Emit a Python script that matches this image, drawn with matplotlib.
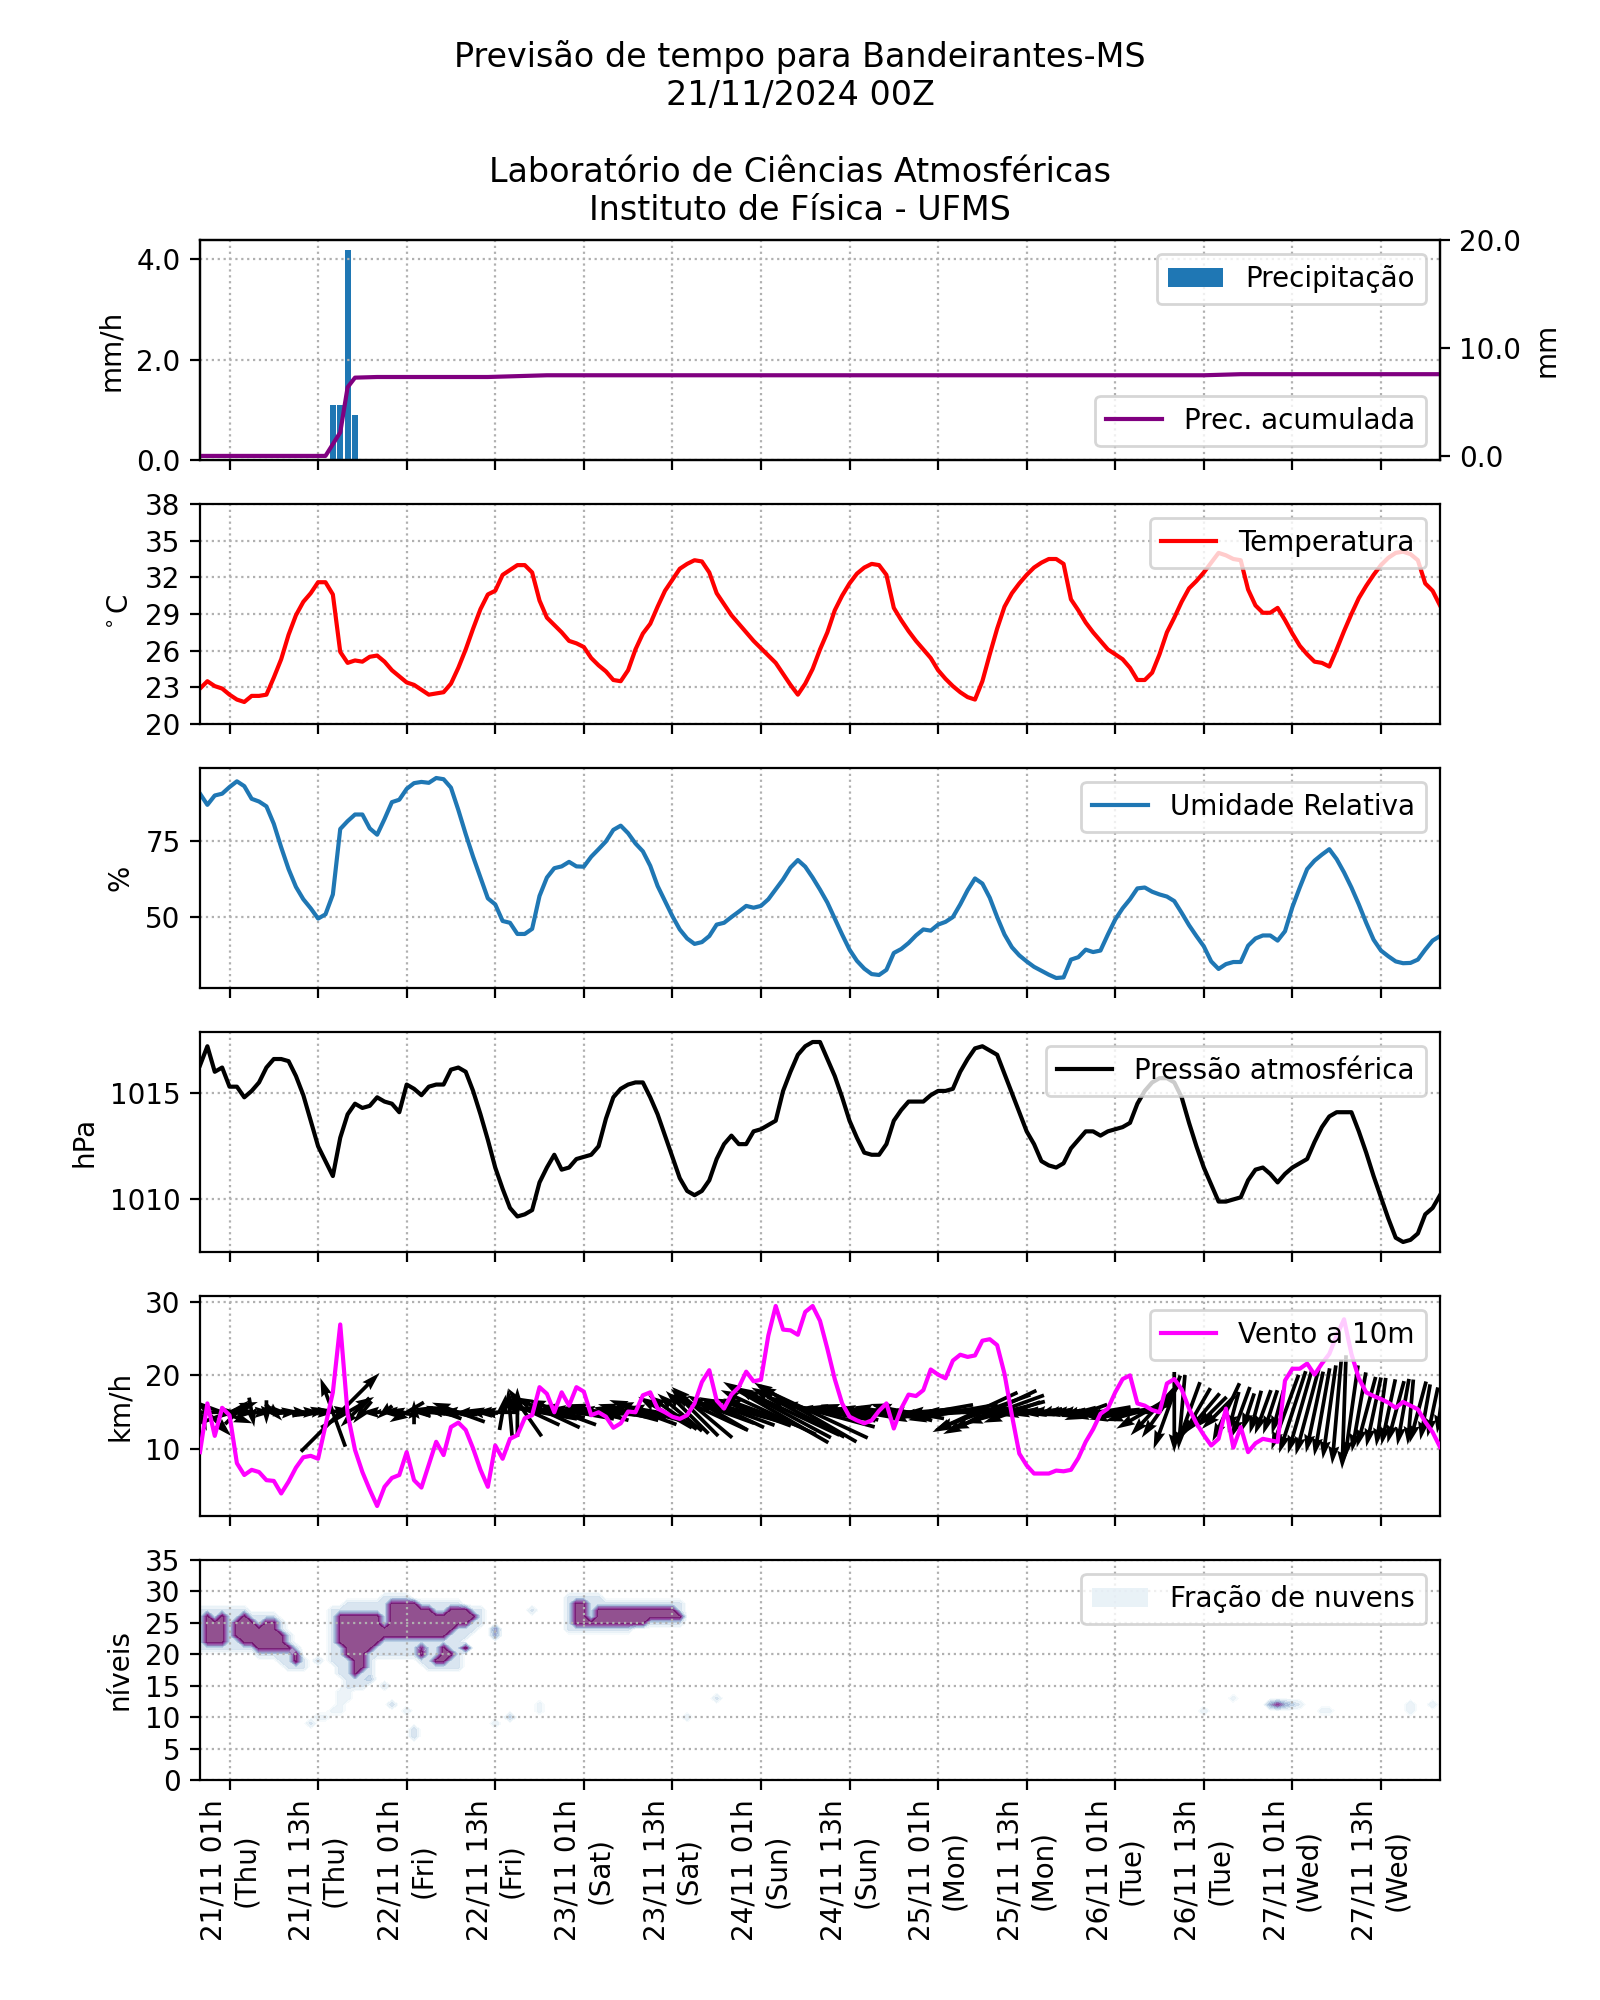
import numpy as np
import matplotlib
matplotlib.use('Agg')
import matplotlib.pyplot as plt
from matplotlib.ticker import MultipleLocator, FormatStrFormatter
from matplotlib.path import Path

# horas desde 20/11 21h (local)
hours = np.arange(169)

tick_pos = [4, 16, 28, 40, 52, 64, 76, 88, 100, 112, 124, 136, 148, 160]
tick_labels = ['21/11 01h\n(Thu)', '21/11 13h\n(Thu)', '22/11 01h\n(Fri)', '22/11 13h\n(Fri)',
               '23/11 01h\n(Sat)', '23/11 13h\n(Sat)', '24/11 01h\n(Sun)', '24/11 13h\n(Sun)',
               '25/11 01h\n(Mon)', '25/11 13h\n(Mon)', '26/11 01h\n(Tue)', '26/11 13h\n(Tue)',
               '27/11 01h\n(Wed)', '27/11 13h\n(Wed)']

# precipitacao horaria (mm/h), somente horas com chuva
prec_hours = [18, 19, 20, 21, 22, 23, 24, 40, 41, 42, 43, 44, 45, 46, 47, 137, 138, 139, 140, 141]
prec_vals = [1.09, 1.09, 4.18, 0.89, 0.02, 0.02, 0.02, 0.02, 0.02, 0.02, 0.02, 0.02,
             0.02, 0.02, 0.02, 0.02, 0.02, 0.02, 0.02, 0.02]

temp = [22.9, 23.5, 23.1, 22.9, 22.4, 22.0, 21.8, 22.3, 22.3, 22.4,
        23.8, 25.3, 27.3, 28.9, 30.0, 30.7, 31.6, 31.6, 30.6, 25.9,
        25.0, 25.2, 25.1, 25.5, 25.6, 25.1, 24.4, 23.9, 23.4, 23.2,
        22.8, 22.4, 22.5, 22.6, 23.3, 24.6, 26.1, 27.8, 29.4, 30.6,
        30.9, 32.2, 32.6, 33.0, 33.0, 32.4, 30.1, 28.7, 28.1, 27.5,
        26.8, 26.6, 26.3, 25.4, 24.8, 24.3, 23.6, 23.5, 24.4, 26.1,
        27.4, 28.2, 29.6, 30.9, 31.8, 32.7, 33.1, 33.4, 33.3, 32.4,
        30.7, 29.8, 28.9, 28.2, 27.5, 26.8, 26.2, 25.6, 25.0, 24.1,
        23.2, 22.4, 23.3, 24.5, 26.1, 27.5, 29.3, 30.5, 31.5, 32.3,
        32.8, 33.1, 33.0, 32.2, 29.5, 28.5, 27.6, 26.8, 26.1, 25.4,
        24.4, 23.7, 23.1, 22.6, 22.2, 22.0, 23.5, 25.7, 27.8, 29.6,
        30.7, 31.5, 32.2, 32.8, 33.2, 33.5, 33.5, 33.1, 30.2, 29.3,
        28.3, 27.5, 26.8, 26.1, 25.7, 25.3, 24.6, 23.6, 23.6, 24.2,
        25.7, 27.5, 28.7, 30.0, 31.1, 31.7, 32.4, 33.2, 34.0, 33.8,
        33.5, 33.4, 31.0, 29.7, 29.1, 29.1, 29.5, 28.5, 27.4, 26.4,
        25.7, 25.1, 25.0, 24.7, 26.1, 27.6, 29.0, 30.3, 31.3, 32.2,
        33.0, 33.6, 34.0, 34.1, 33.9, 33.4, 31.5, 30.9, 29.7]

rh = [90.8, 87.1, 90.2, 90.8, 93.0, 94.9, 93.3, 89.1, 88.2, 86.6,
      80.8, 73.0, 65.8, 59.9, 55.8, 52.8, 49.4, 50.8, 57.4, 79.1,
      81.7, 83.9, 83.9, 79.3, 77.2, 82.4, 88.0, 88.8, 92.4, 94.3,
      94.7, 94.4, 96.0, 95.6, 92.8, 85.4, 77.4, 69.9, 63.0, 56.1,
      54.1, 48.6, 48.0, 44.3, 44.3, 46.0, 56.9, 63.0, 66.1, 66.7,
      68.2, 66.7, 66.6, 69.9, 72.4, 75.0, 78.8, 80.2, 77.7, 74.3,
      71.7, 66.9, 60.2, 55.2, 50.2, 45.8, 42.8, 41.0, 41.6, 43.6,
      47.4, 48.0, 49.9, 51.7, 53.6, 53.0, 53.6, 55.8, 59.1, 62.4,
      66.3, 68.8, 66.6, 63.0, 59.0, 54.7, 49.4, 44.1, 39.1, 35.4,
      32.8, 31.0, 30.7, 32.4, 38.0, 39.3, 41.3, 43.8, 45.8, 45.4,
      47.4, 48.3, 49.9, 54.1, 58.8, 62.7, 61.0, 56.3, 49.9, 44.1,
      39.9, 37.2, 35.2, 33.4, 32.1, 30.8, 29.7, 29.9, 35.8, 36.6,
      39.1, 38.3, 38.8, 44.1, 49.1, 52.8, 55.8, 59.4, 59.7, 58.3,
      57.4, 56.7, 55.2, 51.3, 47.2, 43.6, 40.2, 35.2, 32.7, 34.3,
      35.0, 35.0, 40.4, 42.8, 43.8, 43.8, 42.1, 45.2, 53.2, 59.7,
      65.8, 68.6, 70.6, 72.4, 69.1, 64.7, 59.7, 54.1, 48.0, 42.4,
      38.8, 36.9, 35.2, 34.6, 34.7, 35.8, 39.1, 42.1, 43.6]

pres = [1016.3, 1017.2, 1016.0, 1016.2, 1015.3, 1015.3, 1014.8, 1015.1, 1015.5, 1016.2,
        1016.6, 1016.6, 1016.5, 1015.8, 1014.9, 1013.7, 1012.5, 1011.8, 1011.1, 1012.9,
        1014.0, 1014.5, 1014.3, 1014.4, 1014.8, 1014.6, 1014.5, 1014.1, 1015.4, 1015.2,
        1014.9, 1015.3, 1015.4, 1015.4, 1016.1, 1016.2, 1016.0, 1015.1, 1014.0, 1012.8,
        1011.5, 1010.5, 1009.6, 1009.2, 1009.3, 1009.5, 1010.8, 1011.5, 1012.1, 1011.4,
        1011.5, 1011.9, 1012.0, 1012.1, 1012.5, 1013.8, 1014.8, 1015.2, 1015.4, 1015.5,
        1015.5, 1014.8, 1014.0, 1013.0, 1012.0, 1011.0, 1010.4, 1010.2, 1010.4, 1010.9,
        1011.9, 1012.6, 1013.0, 1012.6, 1012.6, 1013.2, 1013.3, 1013.5, 1013.7, 1015.1,
        1016.0, 1016.8, 1017.2, 1017.4, 1017.4, 1016.6, 1015.8, 1014.8, 1013.7, 1012.9,
        1012.2, 1012.1, 1012.1, 1012.6, 1013.7, 1014.2, 1014.6, 1014.6, 1014.6, 1014.9,
        1015.1, 1015.1, 1015.2, 1016.0, 1016.6, 1017.1, 1017.2, 1017.0, 1016.8, 1015.9,
        1015.0, 1014.1, 1013.2, 1012.6, 1011.8, 1011.6, 1011.5, 1011.7, 1012.4, 1012.8,
        1013.2, 1013.2, 1013.0, 1013.2, 1013.3, 1013.4, 1013.6, 1014.5, 1015.1, 1015.5,
        1015.7, 1015.7, 1015.5, 1014.8, 1013.6, 1012.5, 1011.5, 1010.7, 1009.9, 1009.9,
        1010.0, 1010.1, 1010.9, 1011.4, 1011.5, 1011.2, 1010.8, 1011.2, 1011.5, 1011.7,
        1011.9, 1012.7, 1013.4, 1013.9, 1014.1, 1014.1, 1014.1, 1013.2, 1012.2, 1011.1,
        1010.1, 1009.1, 1008.2, 1008.0, 1008.1, 1008.4, 1009.3, 1009.6, 1010.2]

wind_spd = [9.6, 16.2, 11.8, 15.6, 14.6, 8.1, 6.5, 7.2, 6.9, 5.8,
            5.7, 4.0, 5.6, 7.5, 8.9, 9.1, 8.7, 13.2, 17.7, 26.9,
            14.8, 9.9, 6.9, 4.5, 2.3, 4.9, 6.1, 6.5, 9.6, 5.8,
            4.8, 7.9, 11.0, 9.2, 13.0, 13.6, 12.6, 10.1, 7.2, 4.9,
            10.5, 8.7, 11.4, 11.9, 14.2, 14.6, 18.4, 17.5, 15.0, 17.7,
            15.9, 18.4, 17.8, 14.6, 15.0, 14.4, 12.9, 13.5, 15.1, 15.0,
            17.3, 17.7, 15.5, 15.0, 14.4, 14.1, 14.6, 16.2, 19.1, 20.7,
            16.6, 15.5, 17.4, 18.4, 20.5, 19.2, 19.4, 25.4, 29.4, 26.2,
            26.1, 25.5, 28.6, 29.4, 27.4, 23.6, 19.5, 16.2, 14.4, 13.9,
            13.5, 13.9, 15.2, 16.2, 12.8, 15.5, 17.4, 17.2, 18.0, 20.8,
            20.1, 19.6, 22.0, 22.8, 22.5, 22.7, 24.7, 24.9, 24.1, 20.2,
            14.6, 9.4, 7.8, 6.7, 6.7, 6.7, 7.1, 7.0, 7.2, 8.8,
            11.0, 12.7, 14.8, 15.5, 17.7, 19.5, 20.0, 16.2, 15.9, 15.3,
            15.0, 18.9, 19.5, 18.1, 15.5, 13.5, 11.9, 10.5, 11.4, 15.5,
            10.2, 13.0, 9.6, 10.8, 11.4, 11.2, 11.0, 19.3, 20.9, 20.9,
            21.6, 20.1, 21.6, 22.9, 25.4, 27.6, 22.9, 19.6, 17.7, 17.2,
            16.8, 16.3, 15.6, 16.4, 15.9, 15.4, 13.7, 12.3, 10.3]

# direcao de onde o vento sopra (graus)
wind_dir = [340, 315, 270, 290, 250, 225, 270, 350, 270, 0,
            315, 275, 265, 275, 270, 260, 270, 265, 160, 225,
            240, 45, 40, 90, 80, 50, 90, 100, 60, 180,
            90, 95, 100, 110, 95, 110, 90, 85, 100, 95,
            90, 190, 175, 180, 145, 115, 100, 115, 100, 110,
            95, 100, 95, 100, 105, 95, 90, 100, 105, 100,
            110, 105, 100, 120, 125, 130, 135, 135, 130, 115,
            120, 110, 115, 110, 105, 110, 110, 115, 120, 118,
            115, 118, 120, 115, 105, 100, 95, 100, 105, 95,
            100, 95, 90, 100, 95, 105, 100, 85, 90, 80,
            85, 90, 80, 85, 90, 65, 70, 65, 70, 75,
            70, 80, 80, 85, 80, 75, 80, 85, 80, 75,
            70, 85, 80, 85, 90, 85, 80, 75, 60, 43,
            35, 20, 0, 5, 20, 30, 40, 45, 45, 25,
            15, 20, 18, 15, 20, 18, 15, 20, 18, 16,
            15, 12, 10, 8, 5, 2, 8, 10, 15, 12,
            8, 12, 15, 10, 5, 15, 10, 12, 8]

# fracao de nuvens: regioes (valor, poligono em (hora, nivel)) e pontos isolados
levels_model = np.arange(36)
cloud_polys = [
    (0.25, [(-0.5, 20.8), (-0.5, 27.6), (6, 27.6), (8, 26.2), (10.5, 26.2), (12.6, 22.5), (14.6, 18),
            (12.5, 17.6), (9, 19.6), (5, 20.6), (3.5, 20.8)]),
    (0.25, [(17.6, 19.8), (17.6, 27.6), (26, 29.4), (30, 28.8), (34, 28.3), (38.8, 27), (38.2, 24.5),
            (35.2, 22.3), (35, 17.8), (31, 17.6), (28, 19.8), (24, 19.8), (22.6, 14.3), (20.4, 14.3), (18.4, 17)]),
    (0.15, [(19, 15), (21, 15), (19.5, 11), (16, 9.5), (14.8, 8.7), (15.2, 10), (18, 11.5)]),
    (0.25, [(49.5, 23.5), (49.5, 29.3), (53, 29.3), (56, 28.7), (65, 28.3), (66.3, 26.5),
            (65, 24.6), (60, 24.1), (50, 23.5)]),
    (1.0, [(0.3, 22.0), (0.3, 26.6), (1.4, 26.7), (1.9, 25.6), (2.6, 26.7), (3.6, 26.4),
           (3.8, 22.3), (2.5, 21.7), (1.2, 21.8)]),
    (1.0, [(4.5, 22.4), (4.8, 25.2), (5.5, 26.7), (6.6, 25.6), (7.3, 25.2), (7.9, 24.4), (8.6, 25.2),
           (9.4, 25.6), (10.2, 25.0), (11.0, 23.6), (11.8, 22.2), (12.6, 20.6), (13.4, 18.7),
           (13.7, 19.4), (13.2, 21.0), (11.6, 20.3), (10.4, 20.4), (9.0, 20.6), (7.5, 21.0), (6.0, 21.6)]),
    (1.0, [(18.7, 21.5), (18.8, 25.8), (19.6, 26.7), (23.6, 26.7), (24.7, 25.2), (25.5, 22.4),
           (23.4, 21.0), (22.2, 18.0), (21.5, 15.7), (20.6, 16.3), (20.2, 19.3), (19.4, 20.8)]),
    (1.0, [(25.5, 22.8), (25.4, 27.8), (26.2, 28.4), (28.5, 28.3), (30.5, 27.6), (32.0, 26.6),
           (33.0, 26.6), (34.5, 27.4), (36.0, 27.3), (37.8, 26.3), (36.8, 25.3), (35.0, 24.3),
           (33.5, 23.0), (31.7, 22.3), (30.5, 22.5), (28.0, 22.5), (26.5, 22.7)]),
    (1.0, [(31.5, 18.7), (32.8, 21.6), (34.3, 20.2), (33.2, 18.5)]),
    (1.0, [(50.5, 24.4), (50.5, 28.4), (52.5, 28.4), (52.6, 25.5), (53.5, 25.0), (53.8, 24.6), (52, 24.3)]),
    (1.0, [(53.5, 24.6), (53.7, 27.4), (56, 27.5), (60, 27.3), (64.6, 27.3), (65.4, 26.5),
           (64.8, 25.5), (60.4, 25.5), (60.0, 24.9), (56, 24.7)]),
]
cloud_spots = [(13, 19, 1.0), (30, 20, 1.0), (30, 21, 0.9), (36, 21, 1.0), (16, 19, 0.3),
               (15, 9, 0.25), (23, 16, 0.4), (25, 15, 0.25), (26, 12, 0.3), (28, 11, 0.2),
               (29, 7, 0.3), (29, 8, 0.3), (40, 24, 0.6), (40, 23, 0.5), (42, 10, 0.35),
               (40, 9, 0.2), (45, 27, 0.25), (46, 12, 0.15), (46, 11, 0.15), (66, 10, 0.2),
               (70, 13, 0.25), (136, 11, 0.2), (140, 13, 0.15), (145, 12, 0.5), (146, 12, 0.85),
               (147, 12, 0.5), (148, 12, 0.35), (149, 12, 0.2), (152, 11, 0.15), (153, 11, 0.15),
               (164, 11, 0.2), (164, 12, 0.2), (167, 12, 0.2)]

# ---- montagem dos campos derivados
prec = np.zeros(len(hours))
prec[prec_hours] = prec_vals
prec_acc = np.cumsum(prec)

rad = np.deg2rad(wind_dir)
u = -np.array(wind_spd) * np.sin(rad)
v = -np.array(wind_spd) * np.cos(rad)

H, L = np.meshgrid(hours, levels_model)
pts = np.column_stack([H.ravel(), L.ravel()])
cloud = np.zeros(H.shape)
for val, poly in cloud_polys:
    inside = Path(poly).contains_points(pts).reshape(H.shape)
    cloud = np.where(inside, np.maximum(cloud, val), cloud)
for h, l, val in cloud_spots:
    cloud[l, h] = max(cloud[l, h], val)

# ---- figura
fig, axs = plt.subplots(6, 1, figsize=(8, 10), sharex=True)
fig.suptitle('Previsão de tempo para Bandeirantes-MS\n21/11/2024 00Z\n\n'
             'Laboratório de Ciências Atmosféricas\nInstituto de Física - UFMS')

ax = axs[0]
ax.bar(hours, prec, width=0.8, color='C0', label='Precipitação')
ax.set_ylabel('mm/h')
ax.yaxis.set_major_formatter(FormatStrFormatter('%.1f'))
ax.grid(True, linestyle=':')
ax.legend(loc='upper right')
ax2 = ax.twinx()
ax2.plot(hours, prec_acc, color='purple', label='Prec. acumulada')
ax2.set_ylim(top=20)
ax2.set_ylabel('mm')
ax2.yaxis.set_major_formatter(FormatStrFormatter('%.1f'))
ax2.legend(loc='lower right')

ax = axs[1]
ax.plot(hours, temp, color='red', label='Temperatura')
ax.set_ylim(20, 38)
ax.set_yticks(range(20, 39, 3))
ax.set_ylabel(r'$^\circ$C')
ax.grid(True, linestyle=':')
ax.legend(loc='upper right')

ax = axs[2]
ax.plot(hours, rh, color='C0', label='Umidade Relativa')
ax.yaxis.set_major_locator(MultipleLocator(25))
ax.set_ylabel('%')
ax.grid(True, linestyle=':')
ax.legend(loc='upper right')

ax = axs[3]
ax.plot(hours, pres, color='black', label='Pressão atmosférica')
ax.yaxis.set_major_locator(MultipleLocator(5))
ax.set_ylabel('hPa')
ax.grid(True, linestyle=':')
ax.legend(loc='upper right')

ax = axs[4]
ax.quiver(hours, np.full(len(hours), 15.0), u, v, pivot='middle', scale=300,
          width=0.003, zorder=2)
ax.plot(hours, wind_spd, color='magenta', label='Vento a 10m', zorder=3)
ax.yaxis.set_major_locator(MultipleLocator(10))
ax.set_ylabel('km/h')
ax.grid(True, linestyle=':')
ax.legend(loc='upper right')

ax = axs[5]
clev = [0.05, 0.1, 0.2, 0.3, 0.4, 0.5, 0.6, 0.7, 0.8, 0.9, 1.01]
cs = ax.contourf(hours, levels_model, cloud, levels=clev, cmap='BuPu', alpha=0.7)
proxy = plt.Rectangle((0, 0), 1, 1, fc=plt.get_cmap('BuPu')(0.12), alpha=0.7)
ax.legend([proxy], ['Fração de nuvens'], loc='upper right')
ax.set_ylim(0, 35)
ax.set_yticks(range(0, 36, 5))
ax.set_ylabel('níveis')
ax.grid(True, linestyle=':')

ax.set_xlim(0, 168)
ax.set_xticks(tick_pos)
ax.set_xticklabels(tick_labels, rotation=90)

fig.savefig('out.png', dpi=200)
